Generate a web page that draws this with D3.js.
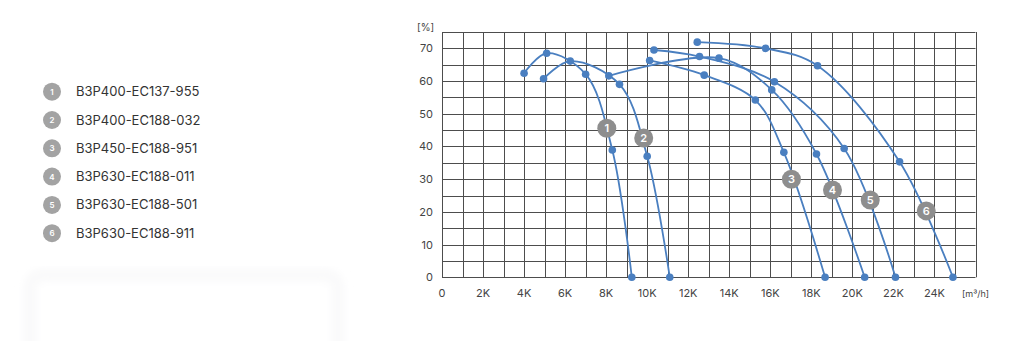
<!DOCTYPE html>
<html lang="en">
<head>
  <meta charset="UTF-8">
  <title>Fan efficiency curves</title>
  <script src="https://d3js.org/d3.v7.min.js"></script>
  <style>
    body { margin: 0; background: #fff; font-family: Inter, "Noto Sans", Arial, sans-serif; }
    svg { display: block; }
  </style>
</head>
<body>
<svg id="chart" width="1024" height="341"></svg>
<script>
  // model names for the legend
  const models = ["B3P400-EC137-955", "B3P400-EC188-032", "B3P450-EC188-951",
                  "B3P630-EC188-011", "B3P630-EC188-501", "B3P630-EC188-911"];

  // airflow (m3/h) and efficiency (%) per curve
  const flow1 = [4000, 5100, 7000, 8300, 9250];
  const eff1  = [62.4, 68.5, 62.1, 38.9, 0];
  const flow2 = [4950, 6250, 8650, 10000, 11100];
  const eff2  = [60.7, 66.1, 59.0, 37.0, 0];
  const flow3 = [10120, 12780, 15270, 16660, 18670];
  const eff3  = [66.3, 61.8, 54.2, 38.2, 0];
  const flow4 = [8130, 13500, 16070, 18250, 20600];
  const eff4  = [61.6, 67.0, 57.3, 37.7, 0];
  const flow5 = [10330, 12550, 16200, 19600, 22100];
  const eff5  = [69.5, 67.5, 59.8, 39.4, 0];
  const flow6 = [12440, 15770, 18300, 22300, 24900];
  const eff6  = [71.9, 70.0, 64.7, 35.3, 0];

  // where the numbered badges sit on each curve
  const badgeFlow = [8030, 9830, 17030, 19030, 20870, 23600];
  const badgeEff  = [45.6, 42.6, 30.0, 26.7, 23.6, 20.3];

  const xTicks = d3.range(0, 26000, 2000);
  const yTicks = d3.range(0, 80, 10);

  const series = [[flow1, eff1], [flow2, eff2], [flow3, eff3],
                  [flow4, eff4], [flow5, eff5], [flow6, eff6]]
    .map(([f, e]) => f.map((v, i) => ({ x: v, y: e[i] })));

  const svg = d3.select("#chart");
  const blue = "#4a7fc0";

  // very faint shadowed panel at the bottom left
  const defs = svg.append("defs");
  defs.append("filter").attr("id", "soft")
    .append("feGaussianBlur").attr("stdDeviation", 4);
  svg.append("rect")
    .attr("x", 30).attr("y", 275).attr("width", 308).attr("height", 90).attr("rx", 12)
    .attr("fill", "none").attr("stroke", "#f9f9fa").attr("stroke-width", 12)
    .attr("filter", "url(#soft)");

  const x = d3.scaleLinear().domain([0, 26000]).range([442, 975.5]);
  const y = d3.scaleLinear().domain([0, 75]).range([277.3, 32]);

  // grid
  const grid = svg.append("g").attr("stroke", "#4d4d4d").attr("stroke-width", 1);
  grid.selectAll(".vx")
    .data(d3.range(0, 27000, 1000))
    .enter().append("line")
    .attr("x1", d => Math.round(x(d)) + 0.5).attr("x2", d => Math.round(x(d)) + 0.5)
    .attr("y1", y(0)).attr("y2", y(75));
  grid.selectAll(".hy")
    .data(d3.range(0, 80, 5))
    .enter().append("line")
    .attr("y1", d => Math.round(y(d)) + 0.5).attr("y2", d => Math.round(y(d)) + 0.5)
    .attr("x1", x(0)).attr("x2", x(26000));

  // tick labels
  svg.append("g").selectAll("text")
    .data(xTicks)
    .enter().append("text")
    .attr("x", d => x(d)).attr("y", 297)
    .attr("text-anchor", "middle")
    .attr("font-size", 11).attr("fill", "#444")
    .text(d => d === 0 ? "0" : d / 1000 + "K");

  svg.append("g").selectAll("text")
    .data(yTicks)
    .enter().append("text")
    .attr("x", 433).attr("y", d => y(d) + 4)
    .attr("text-anchor", "end")
    .attr("font-size", 11).attr("fill", "#444")
    .text(d => d);

  svg.append("text").attr("x", 417).attr("y", 31)
    .attr("font-size", 10).attr("fill", "#444").text("[%]");
  svg.append("text").attr("x", 962).attr("y", 297)
    .attr("font-size", 9).attr("fill", "#444").text("[m³/h]");

  // curves
  const line = d3.line()
    .x(d => x(d.x)).y(d => y(d.y))
    .curve(d3.curveCatmullRom.alpha(0.5));

  series.forEach(s => {
    svg.append("path")
      .datum(s)
      .attr("d", line)
      .attr("fill", "none")
      .attr("stroke", blue)
      .attr("stroke-width", 1.8);
    svg.append("g").selectAll("circle")
      .data(s)
      .enter().append("circle")
      .attr("cx", d => x(d.x)).attr("cy", d => y(d.y))
      .attr("r", 3.8).attr("fill", blue);
  });

  // numbered badges on the curves
  const badges = svg.append("g").selectAll("g")
    .data(badgeFlow.map((f, i) => ({ x: f, y: badgeEff[i], n: i + 1 })))
    .enter().append("g")
    .attr("transform", d => `translate(${x(d.x)},${y(d.y)})`);
  badges.append("circle").attr("r", 9.5).attr("fill", "#8e8e8e");
  badges.append("text")
    .attr("y", 4).attr("text-anchor", "middle")
    .attr("font-size", 11).attr("font-weight", 600).attr("fill", "#fff")
    .text(d => d.n);

  // legend
  const legend = svg.append("g").selectAll("g")
    .data(models)
    .enter().append("g")
    .attr("transform", (d, i) => `translate(52,${91.7 + i * 28.3})`);
  legend.append("circle").attr("r", 9).attr("fill", "#a3a3a3");
  legend.append("text")
    .attr("y", 3).attr("text-anchor", "middle")
    .attr("font-size", 8).attr("font-weight", 600).attr("fill", "#fff")
    .text((d, i) => i + 1);
  legend.append("text")
    .attr("x", 24).attr("y", 4.5)
    .attr("font-size", 13).attr("fill", "#333")
    .text(d => d);
</script>
</body>
</html>
